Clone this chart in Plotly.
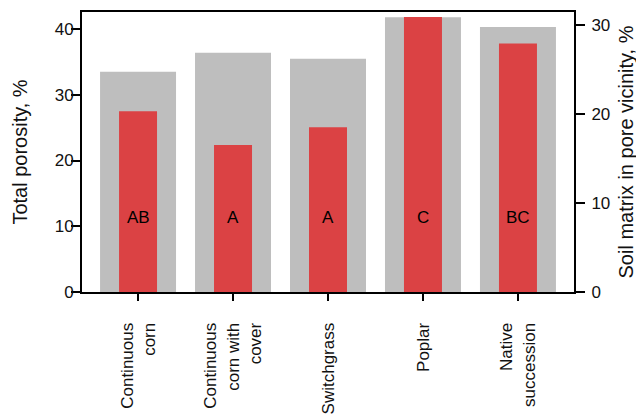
import plotly.graph_objects as go

# Dados
categories = ["Continuous<br>corn", "Continuous<br>corn with<br>cover", "Switchgrass", "Poplar", "Native<br>succession"]
total_porosity = [33.5, 36.4, 35.5, 41.8, 40.3]
soil_matrix = [20.3, 16.5, 18.5, 30.9, 27.9]
letters = ["AB", "A", "A", "C", "BC"]
letter_level = 11.3  # altura das letras, no eixo esquerdo

gray = "#BEBEBE"
red = "#DB4244"
font = dict(family="Liberation Sans, Arial", size=17, color="#111")

fig = go.Figure()

# Barras cinza (porosidade total, eixo esquerdo)
fig.add_trace(go.Bar(x=categories, y=total_porosity, width=0.8, marker_color=gray,
                     marker_line_width=0, yaxis="y", showlegend=False))
# Barras vermelhas (matriz do solo, eixo direito)
fig.add_trace(go.Bar(x=categories, y=soil_matrix, width=0.4, marker_color=red,
                     marker_line_width=0, yaxis="y2", showlegend=False))

# Letras de significância
for cat, let in zip(categories, letters):
    fig.add_annotation(x=cat, y=letter_level, xref="x", yref="y", text=let,
                       showarrow=False, font=dict(family="Liberation Sans, Arial", size=17, color="#000"))

axis_line = dict(showline=True, linecolor="black", linewidth=2, ticks="outside",
                 tickcolor="black", tickwidth=2, showgrid=False, zeroline=False)

# A página tem margem de 8px no body, por isso o tamanho é compensado
fig.update_layout(
    width=636, height=410,
    plot_bgcolor="white", paper_bgcolor="white",
    font=font,
    barmode="overlay",
    margin=dict(l=74, r=70, t=2, b=126),
    xaxis=dict(**axis_line, ticklen=7, tickangle=-90, mirror=True,
               range=[-0.59, 4.59], ticklabelstandoff=15),
    yaxis=dict(**axis_line, ticklen=9, range=[0, 42.6], tickvals=[0, 10, 20, 30, 40],
               ticklabelstandoff=-6,
               title=dict(text="Total porosity, %", standoff=22)),
    yaxis2=dict(**axis_line, ticklen=9, range=[0, 31.45], tickvals=[0, 10, 20, 30],
                overlaying="y", side="right", ticklabelstandoff=3,
                title=dict(text="Soil matrix in pore vicinity, %", standoff=10)),
)

fig.write_html("out.html")
